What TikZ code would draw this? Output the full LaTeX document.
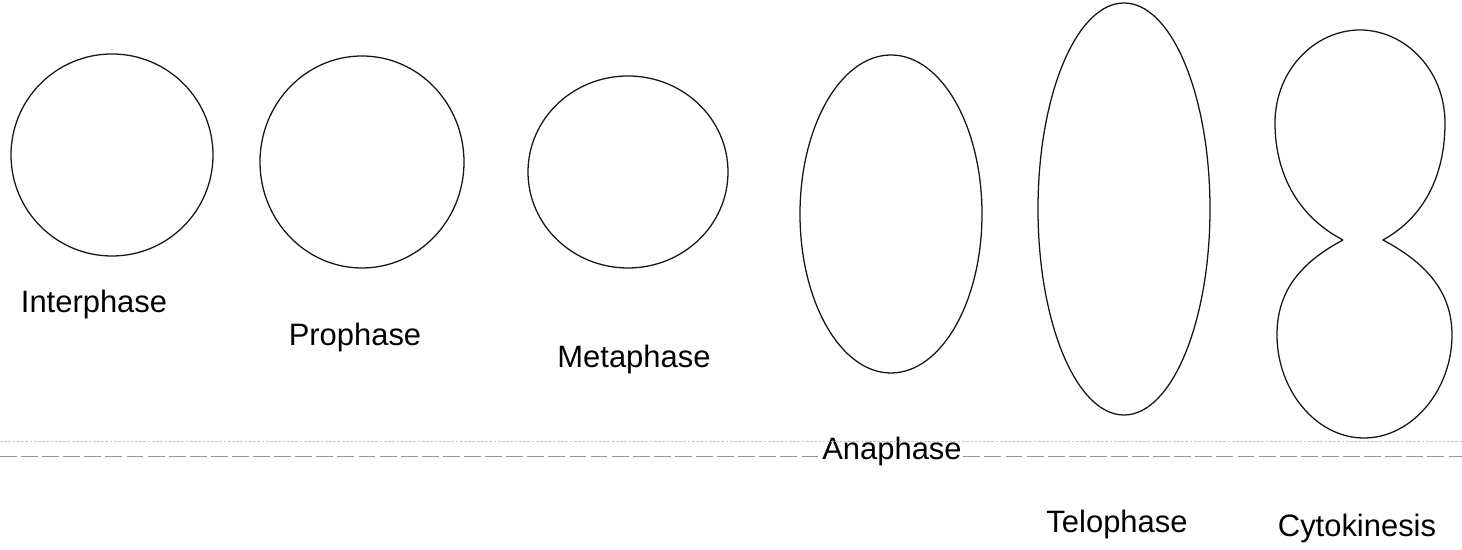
\documentclass[tikz,border=0pt]{standalone}
\usepackage{fontspec}
\setmainfont{Liberation Sans}
\usetikzlibrary{positioning, calc}
\definecolor{cellline}{RGB}{20,20,20}
\definecolor{ruleline}{RGB}{150,150,150}
\definecolor{faintline}{RGB}{200,200,200}

\begin{document}
\begin{tikzpicture}[
    x=0.025cm, y=0.025cm,
    every node/.style={font=\fontsize{22}{26}\selectfont, inner sep=2pt},
    cell/.style={draw=cellline, line width=0.9pt},
    phase/.style={anchor=base},
    dashrule/.style={draw=ruleline, line width=0.6pt, dash pattern=on 12pt off 3pt},
    faintrule/.style={draw=faintline, line width=0.6pt, dash pattern=on 2pt off 1pt}
  ]

  % fixed frame, same proportions as the page
  \useasboundingbox (0,0) rectangle (1462,550);

  % ============================================================
  %  Cells
  % ============================================================
  \draw[cell] (112,395) circle [radius=101];                    % interphase
  \draw[cell] (362,388) ellipse [x radius=102, y radius=106];   % prophase
  \draw[cell] (628,378) ellipse [x radius=100, y radius=96];    % metaphase
  \draw[cell] (891,336) ellipse [x radius=91, y radius=159];    % anaphase
  \draw[cell] (1124,341) ellipse [x radius=86, y radius=206];   % telophase

  % cytokinesis: two lobes pinched in the middle
  \coordinate (pinchL) at (1343,310);
  \coordinate (pinchR) at (1383,310);
  \draw[cell] (pinchL)
      .. controls (1295,335) and (1275,380) .. (1275,427)
      .. controls (1275,480) and (1315,520) .. (1360,520)
      .. controls (1405,520) and (1445,480) .. (1445,427)
      .. controls (1445,380) and (1428,335) .. (pinchR)
      .. controls (1430,285) and (1452,255) .. (1452,215)
      .. controls (1452,160) and (1412,112) .. (1364,112)
      .. controls (1316,112) and (1277,160) .. (1277,215)
      .. controls (1277,255) and (1296,285) .. (pinchL);

  % ============================================================
  %  Labels
  % ============================================================
  \node[phase] (inter) at (94,237)   {Interphase};
  \node[phase] (pro)   at (355,204)  {Prophase};
  \node[phase] (meta)  at (634,182)  {Metaphase};
  \node[phase, inner sep=1pt] (ana) at (892,90) {Anaphase};
  \node[phase] (telo)  at (1117,17)  {Telophase};
  \node[phase] (cyto)  at (1357,13)  {Cytokinesis};

  % ============================================================
  %  Rules across the page
  % ============================================================
  \coordinate (faintL) at (0,109);
  \coordinate (faintR) at (1462,109);
  \draw[faintrule] (faintL) -- (faintR);

  \coordinate (ruleL) at (0,94);
  \coordinate (ruleR) at (1462,94);
  \draw[dashrule] (ruleL) -- (ruleL -| ana.west);
  \draw[dashrule] (ruleR -| ana.east) -- (ruleR);

\end{tikzpicture}
\end{document}
